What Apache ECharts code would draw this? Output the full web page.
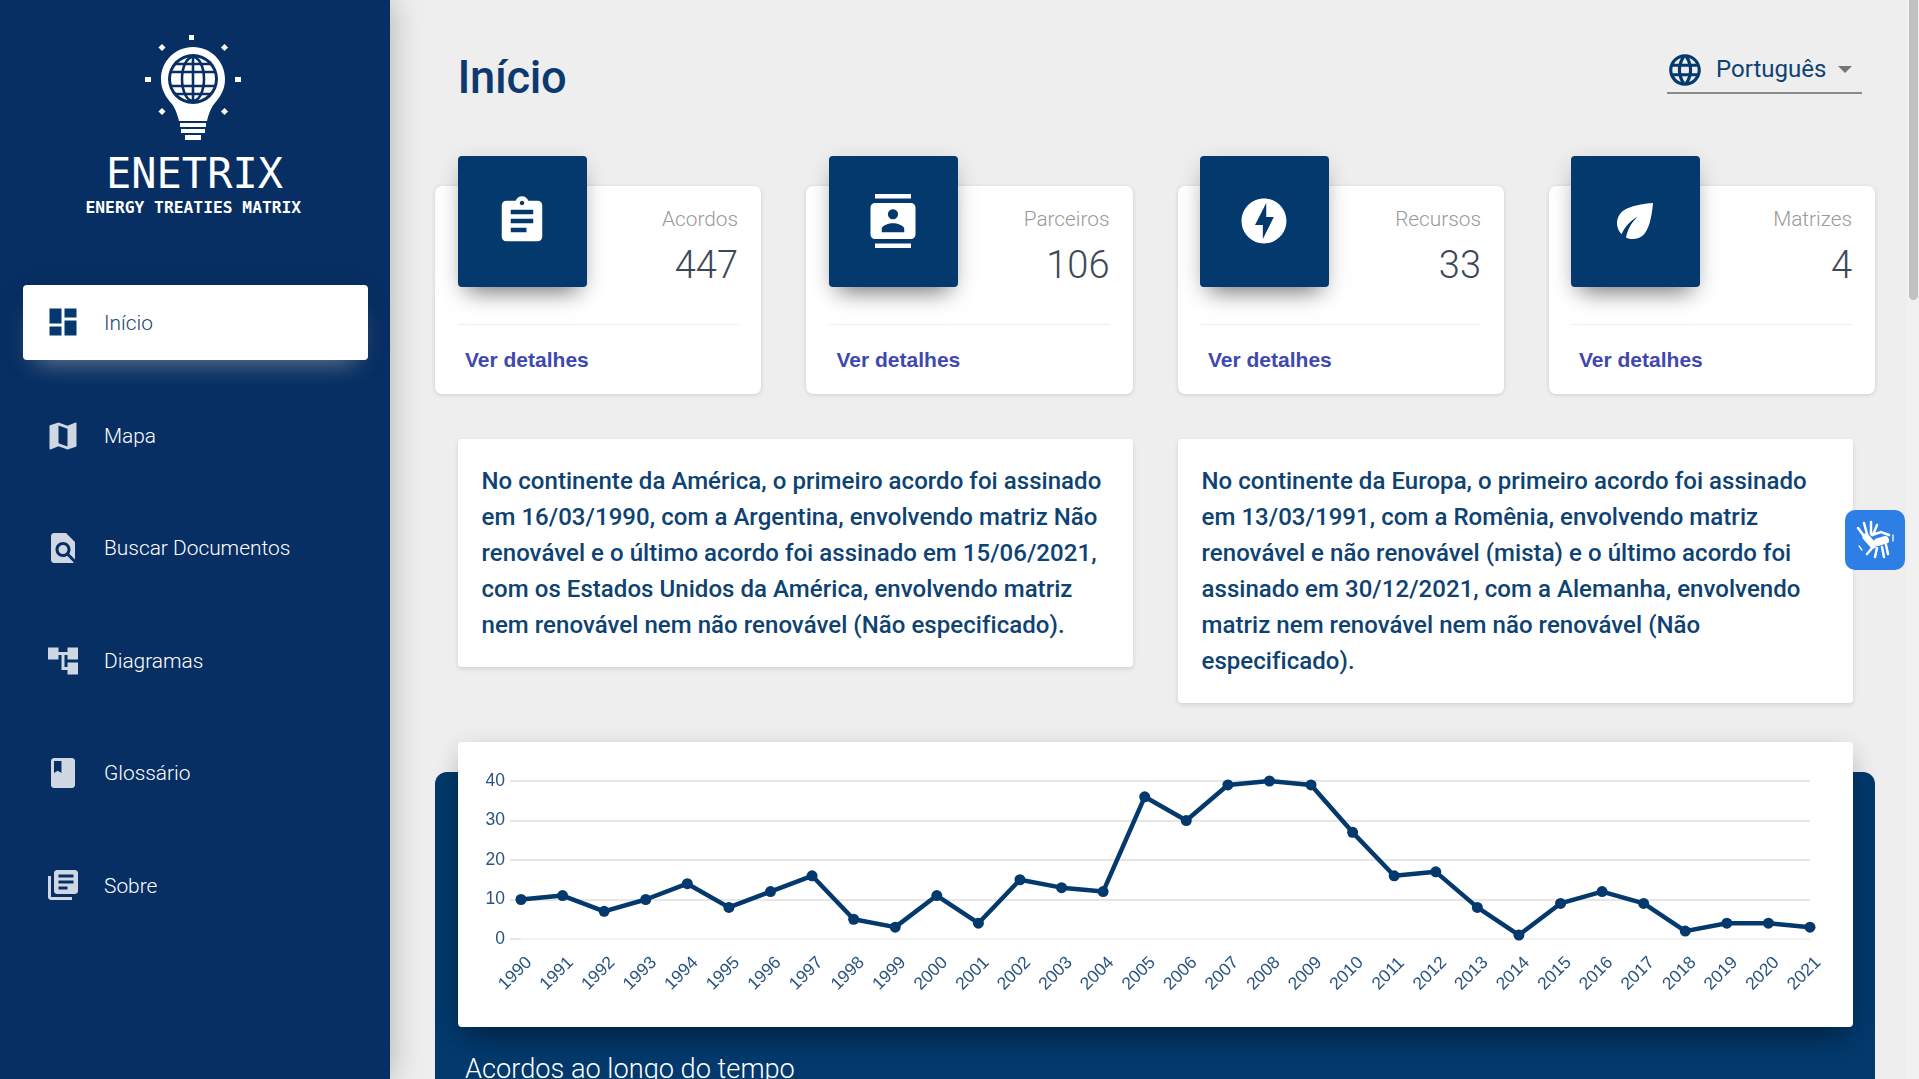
<!DOCTYPE html>
<html lang="pt"><head><meta charset="utf-8"><title>Enetrix</title>
<script src="https://cdn.jsdelivr.net/npm/echarts@6/dist/echarts.min.js"></script>
<style>
html,body{margin:0;padding:0;width:1919px;height:1079px;overflow:hidden;background:#eeeeee;font-family:Roboto,sans-serif}
.abs{position:absolute}
.t{position:absolute;white-space:nowrap;transform:translateY(-50%);line-height:1.2}
#side{left:0;top:0;width:390px;height:1079px;background:#072f63;box-shadow:0 0 30px rgba(0,0,0,.28)}
#active{left:23px;top:285px;width:345px;height:75px;background:#fff;border-radius:4px;box-shadow:0 14px 26px -12px rgba(255,255,255,.42),0 4px 23px 0 rgba(0,0,0,.12)}
.nav{font-weight:300;font-size:20.9px;color:#fff;left:104px}
.navi{position:absolute;left:45px;width:36px;height:36px;fill:#cfd7e3;transform:translateY(-50%)}
.card{position:absolute;top:186px;width:326.5px;height:208px;background:#fff;border-radius:7px;box-shadow:0 1px 4px rgba(0,0,0,.14)}
.box{position:absolute;top:156px;width:129px;height:131px;background:#03396c;border-radius:4px;box-shadow:0 14px 22px -10px rgba(0,0,0,.5),0 4px 22px rgba(0,0,0,.1)}
.box svg{position:absolute;left:37px;top:38px;width:54px;height:54px;fill:#fff}
.panel{position:absolute;background:#fff;border-radius:4px;box-shadow:0 2px 5px rgba(0,0,0,.12);box-sizing:border-box;padding:24px 0 0 23.5px;color:#0d4272;font-weight:500;font-size:24px;line-height:36px;white-space:nowrap;letter-spacing:.05px}
</style></head><body>
<div id="side" class="abs"></div>

<svg class="abs" style="left:140px;top:31px" width="105" height="112" viewBox="0 0 105 112">
  <g fill="#fff">
    <rect x="49" y="4" width="5" height="5"/><rect x="5" y="46" width="6" height="5"/><rect x="95" y="46" width="6" height="5"/>
    <rect x="19.500" y="14" width="5" height="5" transform="rotate(45 22 16.500)"/><rect x="82" y="14" width="5" height="5" transform="rotate(45 84.500 16.500)"/>
    <rect x="19.500" y="78" width="5" height="5" transform="rotate(45 22 80.500)"/><rect x="82" y="78" width="5" height="5" transform="rotate(45 84.500 80.500)"/>
    <path d="M53 16c-17.700 0-32 14.300-32 32 0 11.600 5.500 18.500 10.500 24.500 3.300 4 5.500 9.500 7.500 17.500h28c2-8 4.200-13.500 7.500-17.500C79.500 66.500 85 59.600 85 48c0-17.700-14.300-32-32-32z"/>
    <rect x="40" y="92" width="26" height="4"/><rect x="41" y="98" width="24" height="4"/><rect x="45" y="104" width="16" height="5"/>
  </g>
  <circle cx="53" cy="48" r="25" fill="#072f63"/>
  <circle cx="53" cy="48" r="22" fill="#fff"/>
  <g fill="none" stroke="#072f63" stroke-width="2.600">
    <ellipse cx="53" cy="48" rx="11" ry="22"/><path d="M53 26v44M30 41h46M30 55h46M35 33h36M35 63h36"/>
  </g>
</svg>
<svg class="abs" style="left:70px;top:145px" width="250" height="80">
  <text x="36" y="43" font-family="DejaVu Sans Mono" font-size="42" fill="#fff">ENETRIX</text>
  <text x="15.500" y="68" font-family="DejaVu Sans Mono" font-weight="700" font-size="16.300" fill="#fff">ENERGY TREATIES MATRIX</text>
</svg>

<div id="active" class="abs"></div>
<div id="navHost"></div>

<div class="t" style="left:457.500px;top:78px;font-size:45.300px;font-weight:500;color:#0c3a6e;letter-spacing:-.3px">Início</div>
<svg class="abs" style="left:1666px;top:51px;fill:#03396c" width="38" height="38" viewBox="0 0 24 24"><path d="M11.990 2C6.470 2 2 6.480 2 12s4.470 10 9.990 10C17.520 22 22 17.520 22 12S17.520 2 11.990 2zm6.930 6h-2.950c-.32-1.250-.78-2.450-1.380-3.560 1.840.63 3.370 1.910 4.330 3.560zM12 4.040c.83 1.200 1.480 2.530 1.910 3.960h-3.820c.43-1.430 1.080-2.760 1.910-3.960zM4.260 14C4.100 13.360 4 12.690 4 12s.1-1.360.26-2h3.380c-.08.66-.14 1.320-.14 2 0 .68.06 1.340.14 2H4.260zm.82 2h2.950c.32 1.250.78 2.450 1.380 3.560-1.840-.63-3.370-1.900-4.330-3.560zm2.950-8H5.080c.96-1.660 2.490-2.930 4.330-3.560C8.810 5.550 8.350 6.750 8.030 8zM12 19.960c-.83-1.200-1.480-2.530-1.910-3.960h3.820c-.43 1.430-1.080 2.760-1.910 3.960zM14.340 14H9.660c-.09-.66-.16-1.320-.16-2 0-.68.07-1.350.16-2h4.680c.09.650.16 1.320.16 2 0 .68-.07 1.340-.16 2zm.25 5.560c.6-1.110 1.060-2.310 1.380-3.560h2.950c-.96 1.650-2.490 2.930-4.330 3.560zM16.360 14c.08-.66.14-1.320.14-2 0-.68-.06-1.340-.14-2h3.380c.16.64.26 1.310.26 2s-.1 1.360-.26 2h-3.380z"/></svg>
<div class="t" style="left:1716px;top:69px;font-size:24px;color:#0d4272">Português</div>
<div class="abs" style="left:1838px;top:66px;width:0;height:0;border-left:7.500px solid transparent;border-right:7.500px solid transparent;border-top:7.500px solid #757575"></div>
<div class="abs" style="left:1667px;top:92px;width:195px;height:1.500px;background:#8a8a8a"></div>

<div id="cardHost"></div>

<div class="panel" style="left:458px;top:439px;width:675px;height:228px">No continente da América, o primeiro acordo foi assinado<br>em 16/03/1990, com a Argentina, envolvendo matriz Não<br>renovável e o último acordo foi assinado em 15/06/2021,<br>com os Estados Unidos da América, envolvendo matriz<br>nem renovável nem não renovável (Não especificado).</div>
<div class="panel" style="left:1178px;top:439px;width:675px;height:264px">No continente da Europa, o primeiro acordo foi assinado<br>em 13/03/1991, com a Romênia, envolvendo matriz<br>renovável e não renovável (mista) e o último acordo foi<br>assinado em 30/12/2021, com a Alemanha, envolvendo<br>matriz nem renovável nem não renovável (Não<br>especificado).</div>

<div class="abs" style="left:434.500px;top:772px;width:1440.500px;height:320px;background:#03396c;border-radius:12px 12px 0 0"></div>
<div class="abs" style="left:458px;top:742px;width:1395px;height:285px;background:#fff;border-radius:4px;box-shadow:0 16px 28px -10px rgba(0,0,0,.42),0 4px 24px rgba(0,0,0,.1)"></div>
<div id="chart" class="abs" style="left:458px;top:742px;width:1395px;height:285px"></div>
<div class="t" style="left:465px;top:1069px;font-size:27.200px;font-weight:300;color:#fff">Acordos ao longo do tempo</div>

<div class="abs" style="left:1845px;top:510px;width:60px;height:60px;border-radius:10px;background:#2d7fe6"></div>
<svg class="abs" style="left:1855px;top:520px" width="42" height="40" viewBox="0 0 42 40" fill="none" stroke="#fff" stroke-linecap="round">
  <path stroke-width="2.500" d="M3 8l6 8M9 3l3 11M16 2l0 12M22 5l-4 10"/>
  <path stroke-width="7" d="M11 17l7 8"/>
  <path stroke-width="8" d="M23 22l7-2"/>
  <path stroke-width="2.500" d="M17 15l9-3 8 3M31 25l2 9M27 27l2 10M22 28l-2 9M18 27l-6 7"/>
  <path stroke-width="1.300" d="M38 15v6M4 26l3 4"/>
</svg>

<div class="abs" style="left:1907px;top:0;width:12px;height:1079px;background:#f1f1f1"></div>
<div class="abs" style="left:1909px;top:0;width:9px;height:300px;background:#c1c1c1;border-radius:0 0 5px 5px"></div>

<script>
// Chart data
var years = ['1990','1991','1992','1993','1994','1995','1996','1997','1998','1999','2000','2001','2002','2003','2004','2005','2006','2007','2008','2009','2010','2011','2012','2013','2014','2015','2016','2017','2018','2019','2020','2021'];
var agreements = [10,11,7,10,14,8,12,16,5,3,11,4,15,13,12,36,30,39,40,39,27,16,17,8,1,9,12,9,2,4,4,3];

// Page content
var navLabels = ['Início','Mapa','Buscar Documentos','Diagramas','Glossário','Sobre'];
var navCenters = [323.5,437,549,662,774,887];
var navIcons = [
 'M3 13h8V3H3v10zm0 8h8v-6H3v6zm10 0h8V11h-8v10zm0-18v6h8V3h-8z',
 'M20.500 3l-.16.03L15 5.100 9 3 3.360 4.900c-.21.07-.36.25-.36.48V20.500c0 .28.22.5.5.5l.16-.03L9 18.900l6 2.100 5.640-1.900c.21-.07.36-.25.36-.48V3.500c0-.28-.22-.5-.5-.5zM15 19l-6-2.110V5l6 2.110V19z',
 'M20 19.590V8l-6-6H6c-1.100 0-1.990.9-1.990 2L4 20c0 1.100.89 2 1.990 2H18c.45 0 .85-.15 1.190-.4l-4.430-4.430c-.8.52-1.740.83-2.760.83-2.760 0-5-2.240-5-5s2.240-5 5-5 5 2.240 5 5c0 1.020-.31 1.960-.83 2.750L20 19.590zM9 13c0 1.660 1.340 3 3 3s3-1.340 3-3-1.340-3-3-3-3 1.340-3 3z',
 'M22 11V3h-7v3H9V3H2v8h7V8h2v10h4v3h7v-8h-7v3h-2V8h2v3z',
 'M18 2H6c-1.100 0-2 .9-2 2v16c0 1.100.9 2 2 2h12c1.100 0 2-.9 2-2V4c0-1.100-.9-2-2-2zM6 4h5v8l-2.500-1.500L6 12V4z',
 'M4 6H2v14c0 1.100.9 2 2 2h14v-2H4V6zm16-4H8c-1.100 0-2 .9-2 2v12c0 1.100.9 2 2 2h12c1.100 0 2-.9 2-2V4c0-1.100-.9-2-2-2zm-1 9H9V9h10v2zm-4 4H9v-2h6v2zm4-8H9V5h10v2z'
];
var iconCenters = [322,436,548,661,773,885];
var cardLabels = ['Acordos','Parceiros','Recursos','Matrizes'];
var cardValues = ['447','106','33','4'];
var cardLefts = [434.5,806,1177.5,1548.5];
var boxLefts = [458,829,1200,1571];
var cardIcons = [
 'M19 3h-4.180C14.400 1.840 13.300 1 12 1c-1.300 0-2.400.84-2.820 2H5c-1.100 0-2 .9-2 2v14c0 1.100.9 2 2 2h14c1.100 0 2-.9 2-2V5c0-1.100-.9-2-2-2zm-7 0c.55 0 1 .45 1 1s-.45 1-1 1-1-.45-1-1 .45-1 1-1zm2 14H7v-2h7v2zm3-4H7v-2h10v2zm0-4H7V7h10v2z',
 'M20 0H4v2h16V0zM4 24h16v-2H4v2zM20 4H4c-1.100 0-2 .9-2 2v12c0 1.100.9 2 2 2h16c1.100 0 2-.9 2-2V6c0-1.100-.9-2-2-2zm-8 2.750c1.240 0 2.250 1.010 2.250 2.250s-1.010 2.250-2.250 2.250S9.750 10.240 9.750 9 10.760 6.750 12 6.750zM17 17H7v-1.500c0-1.670 3.330-2.500 5-2.500s5 .83 5 2.500V17z',
 'M12 2.020c-5.510 0-9.980 4.470-9.980 9.980s4.470 9.980 9.980 9.980 9.980-4.470 9.980-9.980S17.510 2.020 12 2.020zM11.480 20v-6.260H8L13 4v6.260h3.350L11.480 20z',
 'M6.050 8.050c-2.730 2.730-2.730 7.150-.02 9.880 1.470-3.400 4.090-6.240 7.360-7.930-2.770 2.340-4.710 5.610-5.390 9.320 2.600 1.230 5.800.78 7.950-1.370C19.430 14.470 20 4 20 4S9.530 4.570 6.050 8.050z'
];

var h = '';
navLabels.forEach(function(l,i){
  var on = i===0;
  h += '<svg class="navi" viewBox="0 0 24 24" style="top:'+iconCenters[i]+'px;'+(on?'fill:#03396c':'')+'"><path d="'+navIcons[i]+'"/></svg>';
  h += '<div class="t nav" style="top:'+navCenters[i]+'px;'+(on?'color:#1a4577':'')+'">'+l+'</div>';
});
document.getElementById('navHost').innerHTML = h;

h = '';
cardLabels.forEach(function(l,i){
  var cl = cardLefts[i], right = 1919-(cl+303.5);
  h += '<div class="card" style="left:'+cl+'px"></div>';
  h += '<div class="abs" style="left:'+boxLefts[i]+'px;top:324px;width:281px;height:1px;background:#eeeeee"></div>';
  h += '<div class="t" style="right:'+right+'px;top:219px;font-size:20.800px;font-weight:300;color:#999">'+l+'</div>';
  h += '<div class="t" style="right:'+right+'px;top:266px;font-size:38px;font-weight:300;color:#3c4858">'+cardValues[i]+'</div>';
  h += '<div class="t" style="left:'+(cl+30.5)+'px;top:360px;font:bold 21px \'Liberation Sans\',Arial,sans-serif;color:#3f48b0;line-height:1.2">Ver detalhes</div>';
  h += '<div class="box" style="left:'+boxLefts[i]+'px"><svg viewBox="0 0 24 24"><path d="'+cardIcons[i]+'"/></svg></div>';
});
document.getElementById('cardHost').innerHTML = h;

var chart = echarts.init(document.getElementById('chart'), null, {renderer:'canvas'});
chart.setOption({
  animation:false,
  grid:{left:63,right:43,top:39,bottom:88,containLabel:false},
  xAxis:{
    type:'category',data:years,boundaryGap:false,
    axisLine:{show:false},axisTick:{show:false},
    axisLabel:{interval:0,rotate:45,margin:29,align:'center',verticalAlign:'middle',padding:[0,16,0,0],
      hideOverlap:false,showMinLabel:true,showMaxLabel:true,
      color:'#2b5580',fontFamily:'"Liberation Sans",Arial,sans-serif',fontSize:17.5}
  },
  yAxis:{
    type:'value',min:0,max:40,interval:10,
    axisLine:{show:false},
    axisTick:{show:true,length:11,lineStyle:{color:'#e6e6e6',width:2}},
    axisLabel:{margin:16,color:'#2b5580',fontFamily:'"Liberation Sans",Arial,sans-serif',fontSize:17.5},
    splitLine:{lineStyle:{color:['#f2f2f2','#e6e6e6','#e6e6e6','#e6e6e6','#e6e6e6'],width:2}}
  },
  series:[{type:'line',data:agreements,clip:false,symbol:'circle',symbolSize:11,showSymbol:true,
    lineStyle:{color:'#03396c',width:4.5},itemStyle:{color:'#03396c'}}]
});
</script>
</body></html>
